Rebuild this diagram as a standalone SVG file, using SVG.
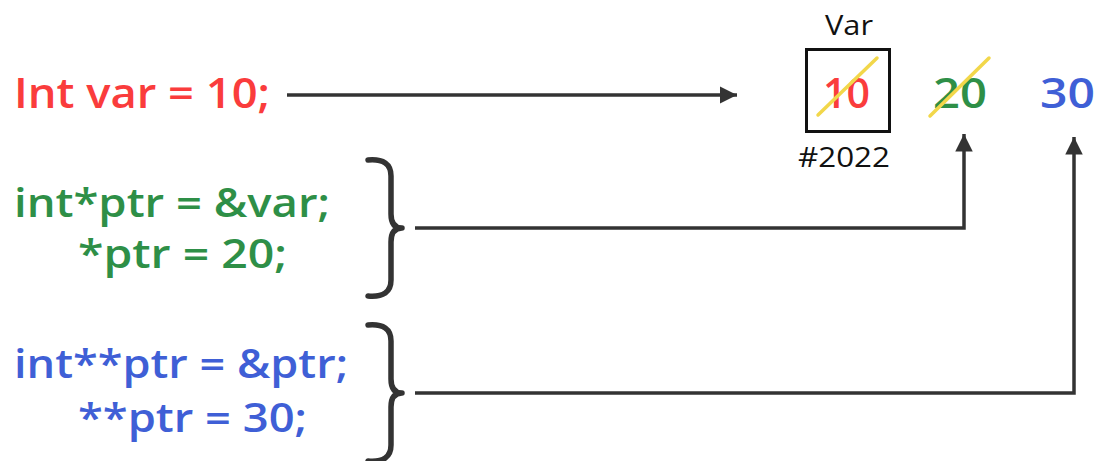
<svg xmlns="http://www.w3.org/2000/svg" width="1101" height="461" viewBox="0 0 1101 461">
<defs>
<style>
.t{font-family:"Open Sans","Liberation Sans",sans-serif;font-weight:600;font-size:42px}
.c{font-size:39px}
.s{font-family:"Open Sans","Liberation Sans",sans-serif;font-weight:400;font-size:28px;fill:#111}
.red{fill:#fa3c3c}.green{fill:#2e8f47}.blue{fill:#3f5fd6}
.ln{fill:none;stroke:#333;stroke-width:3.5}
.br{fill:none;stroke:#333;stroke-width:5.5;stroke-linecap:round;stroke-linejoin:round}
.strike{stroke:#f2d74a;stroke-width:3.5;stroke-linecap:round}
</style>
<marker id="ah" viewBox="0 0 10 10" refX="10" refY="5" markerWidth="5" markerHeight="5" markerUnits="strokeWidth" orient="auto">
<path d="M0,0 L10,5 L0,10 z" fill="#333"/>
</marker>
</defs>
<rect width="1101" height="461" fill="#fff"/>
<g id="code-red">
<text class="t red" x="14" y="108" textLength="256" lengthAdjust="spacingAndGlyphs">Int var = 10;</text>
</g>
<g id="code-green">
<text class="t c green" x="14" y="217" textLength="316" lengthAdjust="spacingAndGlyphs">int*ptr = &amp;var;</text>
<text class="t c green" x="78" y="268" textLength="209" lengthAdjust="spacingAndGlyphs">*ptr = 20;</text>
<path class="br" d="M368,160 Q391,158 391,176 L391,214 Q391,228 402,228 Q391,228 391,242 L391,280 Q391,298 368,296"/>
</g>
<g id="code-blue">
<text class="t c blue" x="14" y="378" textLength="334" lengthAdjust="spacingAndGlyphs">int**ptr = &amp;ptr;</text>
<text class="t c blue" x="78" y="432" textLength="229" lengthAdjust="spacingAndGlyphs">**ptr = 30;</text>
<path class="br" d="M368,325 Q391,323 391,341 L391,379 Q391,393 402,393 Q391,393 391,407 L391,445 Q391,463 368,461"/>
</g>
<g id="var-box">
<text class="s" x="825" y="35" textLength="48" lengthAdjust="spacingAndGlyphs">Var</text>
<rect x="806.5" y="49.5" width="83" height="82" fill="none" stroke="#111" stroke-width="3"/>
<text class="t red" x="823" y="108" textLength="47" lengthAdjust="spacingAndGlyphs">10</text>
<line class="strike" x1="818" y1="115" x2="877" y2="58"/>
<text class="s" x="798" y="167" textLength="92" lengthAdjust="spacingAndGlyphs">#2022</text>
</g>
<g id="val-20">
<text class="t green" x="933" y="108" textLength="54" lengthAdjust="spacingAndGlyphs">20</text>
<line class="strike" x1="930" y1="116" x2="989" y2="58"/>
</g>
<g id="val-30">
<text class="t blue" x="1040" y="108" textLength="55" lengthAdjust="spacingAndGlyphs">30</text>
</g>
<g id="connectors">
<path class="ln" d="M287,95 L737,95" marker-end="url(#ah)"/>
<path class="ln" d="M415,228 L964,228 L964,134" marker-end="url(#ah)"/>
<path class="ln" d="M415,393 L1074,393 L1074,137" marker-end="url(#ah)"/>
</g>
</svg>
